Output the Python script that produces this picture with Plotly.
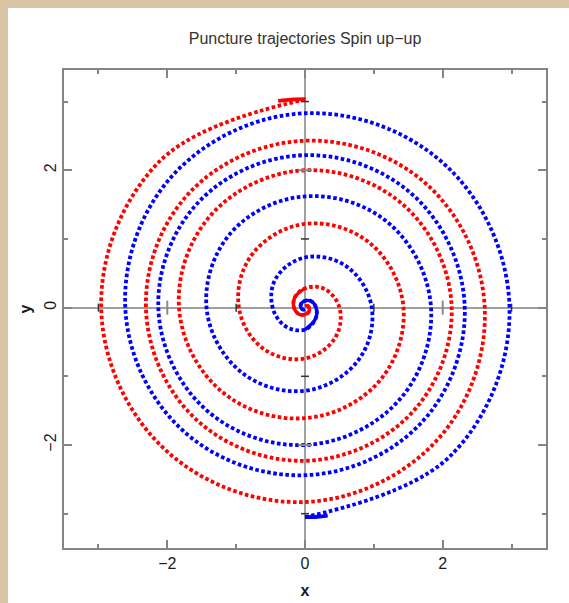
import numpy as np
import plotly.graph_objects as go

# ---- data (polar form: cumulative angle in degrees, radius) ----
red_angle_deg = [90, 135, 180, 225, 270, 315, 360, 405, 450, 495, 540, 585, 630, 675, 720,
                 765, 810, 855, 900, 945, 990, 1035, 1080, 1125, 1170, 1215, 1260, 1305,
                 1350, 1395, 1440, 1485, 1530, 1575, 1620, 1665, 1710, 1755, 1800, 1845, 1890]
red_radius = [3.03, 3.00, 2.96, 2.90, 2.83, 2.72, 2.61, 2.52, 2.43, 2.37, 2.31, 2.27, 2.23, 2.18, 2.13,
              2.07, 2.00, 1.92, 1.83, 1.72, 1.61, 1.52, 1.43, 1.33, 1.22, 1.09, 0.96, 0.85,
              0.74, 0.62, 0.50, 0.39, 0.28, 0.21, 0.16, 0.13, 0.10, 0.08, 0.06, 0.04, 0.02]

blue_angle_deg = [270, 315, 360, 405, 450, 495, 540, 585, 630, 675, 720, 765, 810, 855, 900,
                  945, 990, 1035, 1080, 1125, 1170, 1215, 1260, 1305, 1350, 1395, 1440, 1485,
                  1530, 1575, 1620, 1665, 1710, 1755, 1800, 1845, 1890, 1935, 1980, 2025, 2070]
blue_radius = [3.05, 3.02, 2.97, 2.91, 2.83, 2.72, 2.61, 2.52, 2.44, 2.38, 2.32, 2.27, 2.22, 2.18, 2.13,
               2.07, 2.00, 1.92, 1.83, 1.73, 1.62, 1.53, 1.43, 1.32, 1.21, 1.09, 0.97, 0.85,
               0.73, 0.60, 0.47, 0.39, 0.32, 0.22, 0.16, 0.13, 0.10, 0.08, 0.06, 0.04, 0.02]

# dense initial segments (start of each trajectory)
red_start_x = [0.01, -0.20, -0.39]
red_start_y = [3.035, 3.03, 3.01]
blue_start_x = [0.00, 0.18, 0.33]
blue_start_y = [-3.05, -3.045, -3.03]

# angle from which the late, tightly packed points merge into a continuous stroke
red_merge_from_deg = 1530
blue_merge_from_deg = 1710

x_tick_vals = [-2, 0, 2]
y_tick_vals = [-2, 0, 2]
axis_odd_marks = [-3, -1, 1, 3]
axis_even_marks = [-2, 2]

title_text = "Puncture trajectories Spin up\u2212up"


def to_xy(angles, radii):
    a = np.radians(np.asarray(angles, dtype=float))
    r = np.asarray(radii, dtype=float)
    return r * np.cos(a), r * np.sin(a)


red_x, red_y = to_xy(red_angle_deg, red_radius)
blue_x, blue_y = to_xy(blue_angle_deg, blue_radius)
ri = red_angle_deg.index(red_merge_from_deg)
bi = blue_angle_deg.index(blue_merge_from_deg)

RED = "#ff0000"
BLUE = "#0000ff"
DOTS = "3.6px,2.5px"
W = 3.8

fig = go.Figure()


def add_line(x, y, color, dash=None, width=W):
    line = dict(color=color, width=width, shape="spline", smoothing=1.1)
    if dash:
        line["dash"] = dash
    fig.add_trace(go.Scatter(x=x, y=y, mode="lines", line=line,
                             hoverinfo="skip", showlegend=False))


add_line(red_x, red_y, RED, DOTS)
add_line(red_x[ri:], red_y[ri:], RED, None, 3.4)
add_line(red_start_x, red_start_y, RED, None)
add_line(blue_x, blue_y, BLUE, DOTS)
add_line(blue_x[bi:], blue_y[bi:], BLUE, None, 3.4)
add_line(blue_start_x, blue_start_y, BLUE, None)

FRAME = "#858585"
FONT = "Liberation Sans, Arial, sans-serif"
axis_common = dict(
    automargin=False,
    showgrid=False,
    zeroline=True, zerolinecolor="#a0a0a0", zerolinewidth=2,
    showline=True, linecolor=FRAME, linewidth=2, mirror="ticks",
    ticks="inside", ticklen=8, tickwidth=1.5, tickcolor=FRAME,
    minor=dict(ticks="inside", ticklen=4, tickwidth=1.5, tickcolor=FRAME, dtick=1, tick0=0),
    tickfont=dict(family=FONT, size=16, color="#1a1a1a"),
)

BEIGE = "#d8c4a2"
fig.update_layout(
    width=569, height=603, autosize=False,
    margin=dict(l=64, r=23, t=70, b=55, autoexpand=False),
    paper_bgcolor="white",
    plot_bgcolor="white",
    title=dict(text=title_text, x=0.5, xref="paper", xanchor="center",
               y=1 - 38 / 603, yref="container", yanchor="middle",
               font=dict(family=FONT, size=16, color="#333333")),
    xaxis=dict(range=[-3.5, 3.5], tickvals=x_tick_vals,
               title=dict(text="x", standoff=14,
                          font=dict(family=FONT, size=16, color="#1a1a1a", weight="bold")),
               **axis_common),
    yaxis=dict(range=[-3.5, 3.46], tickvals=y_tick_vals, tickangle=-90,
               title=dict(text="y", standoff=6,
                          font=dict(family=FONT, size=16, color="#1a1a1a", weight="bold")),
               **axis_common),
)

# textured-border strips (left and top) around the white page
px_x = lambda p: (p - 64) / 482
px_y = lambda p: (548 - p) / 478
shapes = [
    dict(type="rect", xref="paper", yref="paper", x0=px_x(-2), x1=px_x(8), y0=px_y(610), y1=px_y(-2),
         fillcolor=BEIGE, line=dict(width=0), layer="below"),
    dict(type="rect", xref="paper", yref="paper", x0=px_x(-2), x1=px_x(575), y0=px_y(8), y1=px_y(-2),
         fillcolor=BEIGE, line=dict(width=0), layer="below"),
]

# tick crosses along the zero lines
for t in axis_odd_marks:
    shapes.append(dict(type="line", xref="x", x0=t, x1=t, yref="y", ysizemode="pixel",
                       yanchor=0, y0=-4, y1=4, line=dict(color="#333333", width=1.5), layer="above"))
    shapes.append(dict(type="line", yref="y", y0=t, y1=t, xref="x", xsizemode="pixel",
                       xanchor=0, x0=-4, x1=4, line=dict(color="#333333", width=1.5), layer="above"))
for t in axis_even_marks:
    shapes.append(dict(type="line", xref="x", x0=t, x1=t, yref="y", ysizemode="pixel",
                       yanchor=0, y0=-7, y1=7, line=dict(color="#8a8a8a", width=2), layer="above"))
    shapes.append(dict(type="line", yref="y", y0=t, y1=t, xref="x", xsizemode="pixel",
                       xanchor=0, x0=-7, x1=7, line=dict(color="#8a8a8a", width=2), layer="above"))
fig.update_layout(shapes=shapes)

fig.write_html("out.html")
